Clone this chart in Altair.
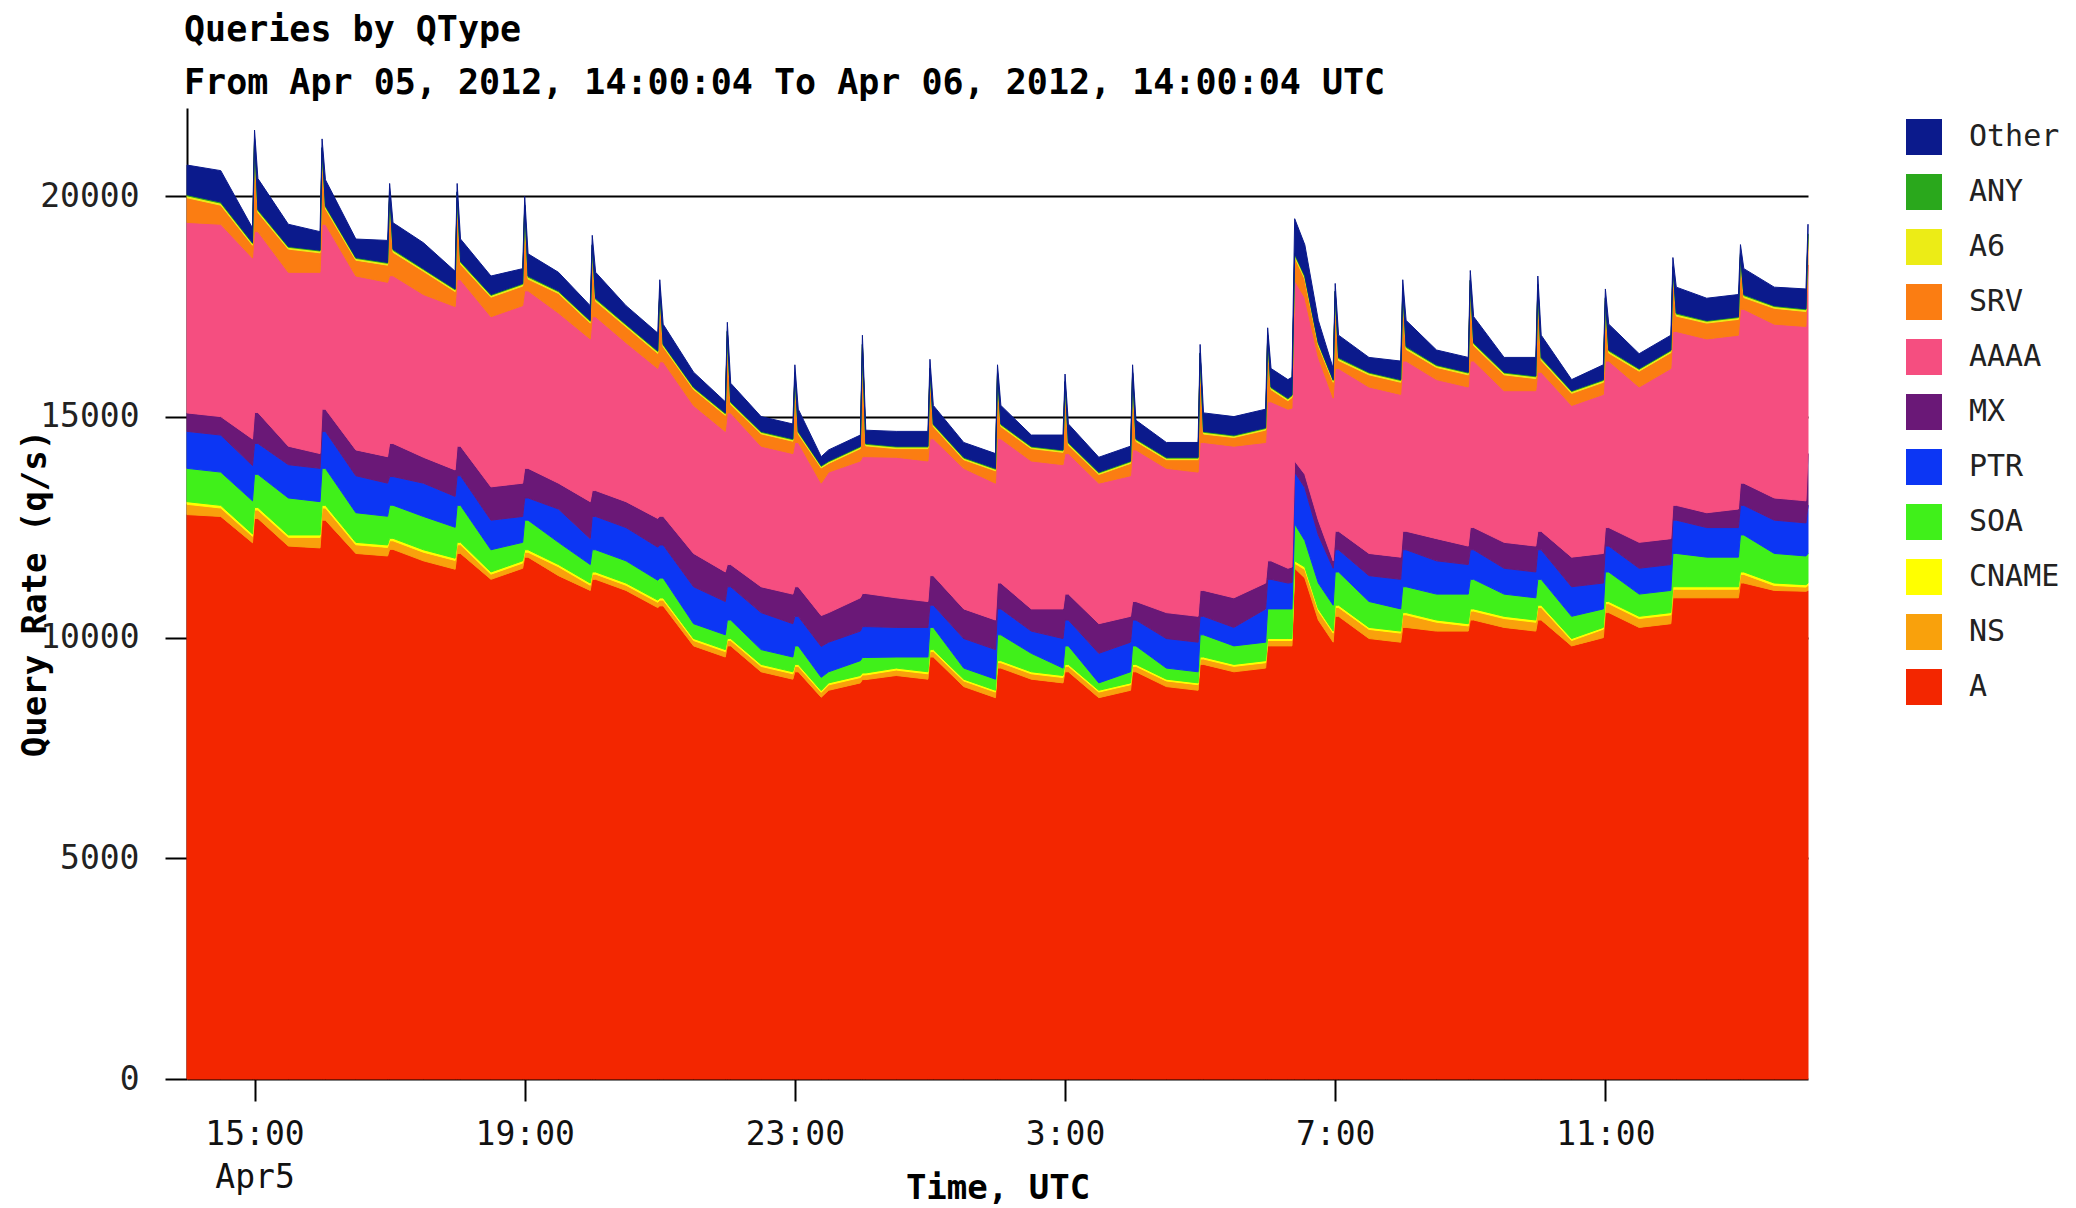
import altair as alt
import pandas as pd

# ---- time axis (hours after Apr 05 14:00:04 UTC) ----
t_hours = [0.0, 0.5, 0.97, 1.0, 1.05, 1.5, 1.97, 2.0, 2.05, 2.5,
           2.97, 3.0, 3.05, 3.5, 3.97, 4.0, 4.05, 4.5, 4.97, 5.0,
           5.05, 5.5, 5.97, 6.0, 6.05, 6.5, 6.97, 7.0, 7.05, 7.5,
           7.97, 8.0, 8.05, 8.5, 8.97, 9.0, 9.05, 9.39, 9.5, 9.97,
           10.0, 10.05, 10.5, 10.97, 11.0, 11.05, 11.5, 11.97, 12.0, 12.05,
           12.5, 12.97, 13.0, 13.05, 13.5, 13.97, 14.0, 14.05, 14.5, 14.97,
           15.0, 15.05, 15.5, 15.97, 16.0, 16.05, 16.3, 16.36, 16.4, 16.55,
           16.75, 16.97, 17.0, 17.05, 17.5, 17.97, 18.0, 18.05, 18.5, 18.97,
           19.0, 19.05, 19.5, 19.97, 20.0, 20.05, 20.5, 20.97, 21.0, 21.05,
           21.5, 21.97, 22.0, 22.05, 22.5, 22.97, 23.0, 23.05, 23.5, 23.97,
           24.0]

# ---- cumulative boundaries (q/s) ----
total = [20707, 20581, 19280, 21500, 20400, 19366, 19198, 21300, 20372, 19031,
         19000, 20290, 19400, 18947, 18300, 20290, 19031, 18193, 18360, 19995,
         18696, 18277, 17522, 19115, 18277, 17522, 16900, 18109, 17100, 16014,
         15344, 17145, 15763, 15008, 14841, 16182, 15176, 14100, 14254, 14590,
         16852, 14700, 14673, 14673, 16307, 15260, 14422, 14170, 16182, 15260,
         14590, 14590, 15972, 14841, 14087, 14338, 16182, 14925, 14422, 14422,
         16643, 15092, 15008, 15176, 17020, 16098, 15846, 15900, 19492, 18900,
         17187, 16098, 18025, 16852, 16349, 16266, 18109, 17187, 16517, 16349,
         18318, 17271, 16349, 16349, 18193, 16852, 15846, 16182, 17900, 17103,
         16433, 16852, 18612, 17941, 17690, 17774, 18905, 18360, 17941, 17900,
         19366]
srv_top = [20036, 19869, 18950, 21300, 19700, 18863, 18779, 21100, 19785, 18612,
           18500, 20100, 18800, 18360, 17900, 20100, 18528, 17774, 18025, 19800,
           18193, 17858, 17187, 18900, 17690, 17103, 16500, 17900, 16650, 15679,
           15092, 16950, 15344, 14673, 14506, 16000, 14673, 13900, 14003, 14338,
           16650, 14400, 14338, 14338, 16100, 14841, 14087, 13835, 16000, 14841,
           14338, 14254, 15800, 14422, 13751, 14003, 16000, 14506, 14087, 14087,
           16450, 14673, 14590, 14757, 16850, 15679, 15427, 15500, 18700, 18200,
           16684, 15846, 17850, 16349, 16014, 15846, 17900, 16600, 16182, 16014,
           18100, 16684, 16014, 15930, 18000, 16349, 15595, 15846, 17700, 16517,
           16098, 16517, 18400, 17355, 17187, 17271, 18700, 17774, 17522, 17450,
           19150]
aaaa_top = [19408, 19366, 18600, 19200, 19200, 18277, 18277, 19366, 19366, 18193,
            18050, 18200, 18200, 17774, 17500, 18109, 18109, 17271, 17522, 17858,
            17858, 17355, 16768, 17271, 17271, 16684, 16100, 16250, 16250, 15260,
            14673, 15092, 15092, 14338, 14170, 14422, 14422, 13500, 13751, 14003,
            14100, 14100, 14087, 14003, 14506, 14506, 13835, 13500, 14506, 14506,
            14003, 13919, 14170, 14170, 13500, 13668, 14254, 14254, 13835, 13751,
            14422, 14422, 14338, 14422, 15344, 15344, 15176, 15200, 18100, 17700,
            16349, 15427, 16098, 16098, 15679, 15511, 16266, 16266, 15846, 15679,
            16266, 16266, 15595, 15595, 16014, 16014, 15260, 15511, 16266, 16266,
            15679, 16098, 16936, 16936, 16768, 16852, 17439, 17439, 17103, 17050,
            18444]
mx_top = [15092, 15008, 14500, 15100, 15100, 14338, 14170, 15176, 15176, 14254,
          14100, 14400, 14400, 14087, 13800, 14338, 14338, 13416, 13500, 13835,
          13835, 13500, 13081, 13332, 13332, 13081, 12700, 12750, 12750, 11908,
          11489, 11656, 11656, 11153, 10986, 11153, 11153, 10500, 10567, 10902,
          11000, 11000, 10902, 10818, 11405, 11405, 10651, 10399, 11237, 11237,
          10651, 10651, 10986, 10986, 10316, 10483, 10818, 10818, 10567, 10483,
          11070, 11070, 10902, 11237, 11740, 11740, 11572, 11600, 14003, 13700,
          12662, 11740, 12410, 12410, 11908, 11824, 12410, 12410, 12243, 12075,
          12494, 12494, 12159, 12075, 12410, 12410, 11824, 11908, 12494, 12494,
          12159, 12243, 12997, 12997, 12830, 12914, 13500, 13500, 13165, 13100,
          14170]
ptr_top = [14673, 14590, 13900, 14400, 14400, 13919, 13835, 14673, 14673, 13668,
           13500, 13650, 13650, 13500, 13200, 13668, 13668, 12662, 12746, 13165,
           13165, 12914, 12243, 12746, 12746, 12494, 12050, 12100, 12100, 11153,
           10818, 11153, 11153, 10567, 10316, 10483, 10483, 9800, 9897, 10148,
           10250, 10250, 10232, 10232, 10735, 10735, 9980, 9729, 10651, 10651,
           10148, 9980, 10399, 10399, 9645, 9897, 10399, 10399, 9980, 9897,
           10483, 10483, 10232, 10651, 11321, 11321, 11237, 11250, 13751, 13400,
           12327, 11572, 11991, 11991, 11405, 11321, 11991, 11991, 11740, 11656,
           11991, 11991, 11572, 11488, 11991, 11991, 11153, 11237, 12075, 12075,
           11572, 11656, 12662, 12662, 12494, 12494, 12997, 12997, 12662, 12600,
           13000]
soa_top = [13835, 13751, 13100, 13700, 13700, 13165, 13081, 13835, 13835, 12830,
           12750, 13000, 13000, 12746, 12500, 12997, 12997, 11991, 12159, 12662,
           12662, 12159, 11656, 11991, 11991, 11740, 11300, 11350, 11350, 10316,
           10064, 10399, 10399, 9729, 9561, 9813, 9813, 9100, 9226, 9478,
           9550, 9550, 9561, 9561, 10232, 10232, 9310, 9059, 10064, 10064,
           9645, 9310, 9813, 9813, 8975, 9226, 9813, 9813, 9310, 9226,
           10064, 10064, 9813, 9897, 10651, 10651, 10651, 10650, 12578, 12200,
           11237, 10735, 11488, 11488, 10819, 10651, 11153, 11153, 10986, 10986,
           11321, 11321, 10986, 10902, 11321, 11321, 10483, 10651, 11488, 11488,
           10986, 11070, 11908, 11908, 11824, 11824, 12327, 12327, 11908, 11850,
           11908]
ns_top = [13081, 12997, 12350, 12950, 12950, 12327, 12327, 12997, 12997, 12159,
          12100, 12250, 12250, 11991, 11800, 12159, 12159, 11488, 11740, 11991,
          11991, 11656, 11237, 11488, 11488, 11237, 10850, 10900, 10900, 9980,
          9729, 9980, 9980, 9394, 9226, 9394, 9394, 8800, 8975, 9142,
          9200, 9200, 9310, 9226, 9729, 9729, 9059, 8807, 9478, 9478,
          9226, 9142, 9394, 9394, 8807, 8975, 9394, 9394, 9059, 8975,
          9561, 9561, 9394, 9478, 9980, 9980, 9980, 9980, 11740, 11600,
          10651, 10148, 10735, 10735, 10232, 10148, 10567, 10567, 10399, 10316,
          10651, 10651, 10483, 10399, 10735, 10735, 9980, 10232, 10819, 10819,
          10483, 10567, 11153, 11153, 11153, 11153, 11488, 11488, 11237, 11200,
          11237]
a_top = [12788, 12746, 12150, 12700, 12700, 12075, 12033, 12662, 12662, 11908,
         11850, 12000, 12000, 11740, 11550, 11908, 11908, 11321, 11572, 11824,
         11824, 11405, 11070, 11321, 11321, 11070, 10680, 10720, 10720, 9813,
         9561, 9813, 9813, 9226, 9059, 9226, 9226, 8650, 8807, 8975,
         9050, 9050, 9142, 9059, 9561, 9561, 8891, 8640, 9310, 9310,
         9059, 8975, 9226, 9226, 8640, 8807, 9226, 9226, 8891, 8807,
         9394, 9394, 9226, 9310, 9813, 9813, 9813, 9813, 11572, 11350,
         10399, 9897, 10483, 10483, 9980, 9897, 10232, 10232, 10148, 10148,
         10399, 10399, 10232, 10148, 10399, 10399, 9813, 10000, 10567, 10567,
         10232, 10316, 10902, 10902, 10902, 10902, 11237, 11237, 11070, 11050,
         11070]

# ---- thin layers (q/s) ----
cname = [60, 60, 55, 60, 60, 55, 55, 60, 60, 55,
         55, 55, 55, 55, 50, 55, 55, 50, 50, 55,
         55, 50, 50, 50, 50, 50, 50, 50, 50, 45,
         45, 45, 45, 45, 45, 45, 45, 40, 45, 45,
         45, 45, 45, 45, 45, 45, 40, 40, 45, 45,
         45, 45, 45, 45, 40, 40, 45, 45, 40, 40,
         45, 45, 45, 45, 45, 45, 45, 45, 55, 55,
         50, 45, 50, 50, 45, 45, 50, 50, 50, 50,
         50, 50, 50, 50, 50, 50, 45, 40, 50, 50,
         50, 50, 55, 55, 55, 55, 55, 55, 55, 55,
         55]
a6 = [45, 45, 40, 60, 45, 40, 40, 60, 45, 40,
      40, 55, 45, 40, 40, 55, 45, 40, 40, 55,
      45, 40, 40, 50, 45, 40, 40, 50, 40, 35,
      35, 50, 40, 35, 35, 45, 40, 35, 35, 35,
      45, 35, 35, 35, 45, 40, 35, 35, 45, 40,
      35, 35, 45, 40, 35, 35, 45, 40, 35, 35,
      45, 40, 35, 35, 45, 40, 40, 40, 55, 50,
      45, 40, 50, 45, 40, 40, 50, 45, 40, 40,
      50, 45, 40, 40, 50, 45, 40, 40, 50, 45,
      40, 40, 50, 45, 40, 40, 50, 45, 40, 40,
      50]
any_ = [25, 25, 20, 30, 25, 20, 20, 30, 25, 20,
        20, 30, 25, 20, 20, 30, 25, 20, 20, 30,
        25, 20, 20, 30, 25, 20, 20, 25, 20, 20,
        20, 25, 20, 20, 20, 25, 20, 20, 20, 20,
        25, 20, 20, 20, 25, 20, 20, 20, 25, 20,
        20, 20, 25, 20, 20, 20, 25, 20, 20, 20,
        25, 20, 20, 20, 25, 20, 20, 20, 30, 25,
        25, 20, 25, 25, 20, 20, 25, 25, 20, 20,
        25, 25, 20, 20, 25, 25, 20, 20, 25, 25,
        20, 20, 25, 25, 20, 20, 25, 25, 20, 20,
        25]

# ---- categories / colours / ticks ----
stack_order = ["A", "NS", "CNAME", "SOA", "PTR", "MX", "AAAA", "SRV", "A6", "ANY", "Other"]
legend_order = ["Other", "ANY", "A6", "SRV", "AAAA", "MX", "PTR", "SOA", "CNAME", "NS", "A"]
legend_colors = ["#0b1a8c", "#2aa81c", "#ecec16", "#fb7d12", "#f54e80", "#6a1877",
                 "#0c36f4", "#40f01a", "#ffff00", "#f9a10c", "#f32600"]
x_tick_minutes = [60, 300, 540, 780, 1020, 1260]
x_tick_labels = ["15:00", "19:00", "23:00", "3:00", "7:00", "11:00"]
y_tick_values = [0, 5000, 10000, 15000, 20000]

series_lists = [total, srv_top, aaaa_top, mx_top, ptr_top, soa_top, ns_top, a_top, cname, a6, any_]
assert all(len(s) == len(t_hours) for s in series_lists)

rows = []
for i, h in enumerate(t_hours):
    vals = {
        "A": a_top[i],
        "NS": ns_top[i] - a_top[i] - cname[i],
        "CNAME": cname[i],
        "SOA": soa_top[i] - ns_top[i],
        "PTR": ptr_top[i] - soa_top[i],
        "MX": mx_top[i] - ptr_top[i],
        "AAAA": aaaa_top[i] - mx_top[i],
        "SRV": srv_top[i] - aaaa_top[i] - a6[i] - any_[i],
        "A6": a6[i],
        "ANY": any_[i],
        "Other": total[i] - srv_top[i],
    }
    for k, v in vals.items():
        rows.append({"t": h * 60.0, "qtype": k, "rate": max(v, 0), "ord": stack_order.index(k)})
df = pd.DataFrame(rows)

# multi-line first label
parts = []
for v, lab in zip(x_tick_minutes, x_tick_labels):
    if v == x_tick_minutes[0]:
        parts.append(f"datum.value == {v} ? ['{lab}', 'Apr5']")
    else:
        parts.append(f"datum.value == {v} ? '{lab}'")
label_expr = " : ".join(parts) + " : ''"

MONO = "DejaVu Sans Mono"
color_scale = alt.Scale(domain=legend_order, range=legend_colors)

area = alt.Chart(df).mark_area(interpolate="linear", strokeWidth=1).encode(
    x=alt.X("t:Q",
            scale=alt.Scale(domain=[0, 1440], nice=False, zero=False),
            axis=alt.Axis(values=x_tick_minutes, labelExpr=label_expr, grid=False, domain=False,
                          tickColor="black", tickWidth=2, tickSize=22,
                          labelFont=MONO, labelFontSize=33, labelColor="#111",
                          labelPadding=17, labelLineHeight=43, labelAlign="center",
                          title="Time, UTC", titleFont=MONO, titleFontSize=34,
                          titleFontWeight="bold", titleColor="black",
                          titleBaseline="middle", titleY=109)),
    y=alt.Y("rate:Q", stack="zero",
            scale=alt.Scale(domain=[0, 22000], nice=False),
            axis=alt.Axis(values=y_tick_values, format="d", grid=True, gridColor="black",
                          gridWidth=2, gridOpacity=1, domain=True, domainColor="black",
                          domainWidth=2, tickColor="black", tickWidth=2, tickSize=22,
                          labelFont=MONO, labelFontSize=33, labelColor="#222",
                          labelPadding=26,
                          title="Query Rate (q/s)", titleFont=MONO, titleFontSize=34,
                          titleFontWeight="bold", titleColor="black", titleAngle=-90,
                          titleAlign="center", titleBaseline="middle",
                          titleX=-152, titleY=485)),
    color=alt.Color("qtype:N", scale=color_scale,
                    legend=alt.Legend(title=None, orient="none", legendX=1719, legendY=11,
                                      symbolType="square", symbolSize=1156,
                                      symbolStrokeColor="black", symbolStrokeWidth=2,
                                      symbolOpacity=1,
                                      labelFont=MONO, labelFontSize=30, labelColor="#222",
                                      labelOffset=27, rowPadding=13, padding=0,
                                      labelLimit=300)),
    stroke=alt.Stroke("qtype:N", scale=color_scale, legend=None),
    order=alt.Order("ord:Q", sort="ascending"),
)

chart = area.properties(
    width=1621,
    height=971,
    background="white",
    padding={"left": 179, "top": 100, "right": 252, "bottom": 126},
    autosize=alt.AutoSizeParams(type="none"),
    title=alt.TitleParams(
        text="Queries by QType",
        subtitle="From Apr 05, 2012, 14:00:04 To Apr 06, 2012, 14:00:04 UTC",
        anchor="start", frame="group", dx=-3,
        font=MONO, fontSize=35, fontWeight="bold", color="black",
        subtitleFont=MONO, subtitleFontSize=35, subtitleFontWeight="bold",
        subtitleColor="black", subtitlePadding=18, offset=7,
    ),
).configure_view(strokeWidth=0, stroke="transparent", fill="white")

chart.save("out.html", embed_options={"renderer": "svg", "actions": False})
